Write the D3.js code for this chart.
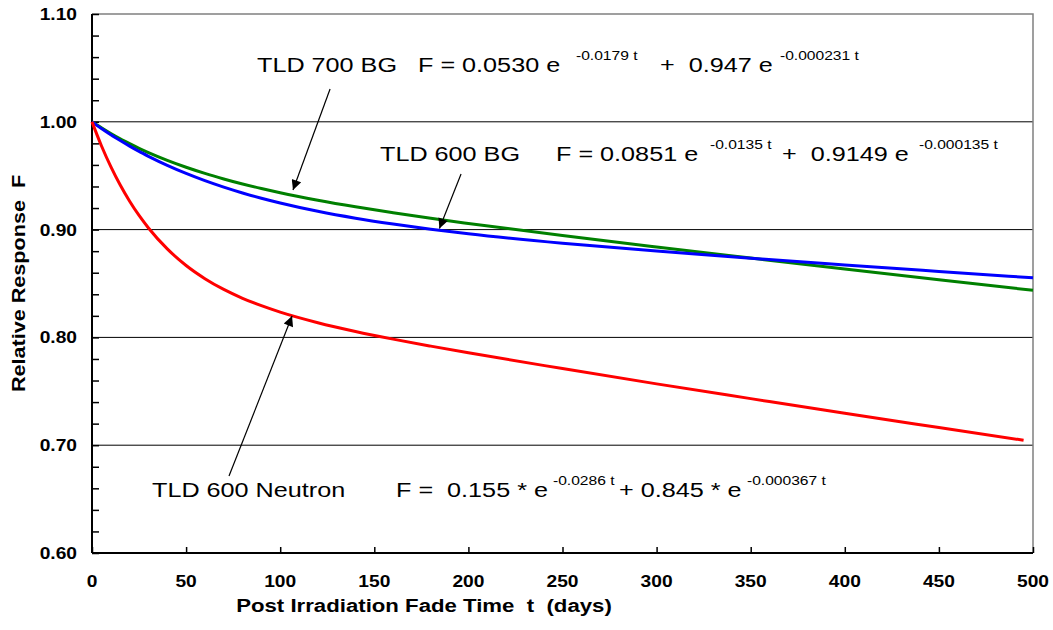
<!DOCTYPE html>
<html>
<head>
<meta charset="utf-8">
<script src="https://cdn.jsdelivr.net/npm/d3@7"></script>
<style>
  body { margin: 0; background: #fff; }
  text { font-family: "Liberation Sans", Arial, sans-serif; white-space: pre; }
</style>
</head>
<body>
<div id="chart"></div>
<script>
// fade time (days)
const days = [0, 5, 10, 15, 20, 25, 30, 40, 50, 60, 70, 80, 90, 100, 120, 140, 160, 180, 200, 250, 300, 350, 400, 450, 500]
const neutronDays = [0, 5, 10, 15, 20, 25, 30, 40, 50, 60, 70, 80, 90, 100, 120, 140, 160, 180, 200, 250, 300, 350, 400, 450, 495]

// relative response F
const tld700bg = [1.0000, 0.9944, 0.9891, 0.9842, 0.9797, 0.9754, 0.9714, 0.9642, 0.9578, 0.9521, 0.9470, 0.9423, 0.9381, 0.9342, 0.9273, 0.9212, 0.9157, 0.9105, 0.9057, 0.8945, 0.8839, 0.8736, 0.8634, 0.8535, 0.8437]
const tld600bg = [1.0000, 0.9938, 0.9880, 0.9826, 0.9774, 0.9725, 0.9680, 0.9596, 0.9521, 0.9454, 0.9394, 0.9340, 0.9291, 0.9247, 0.9170, 0.9106, 0.9052, 0.9004, 0.8962, 0.8874, 0.8801, 0.8734, 0.8672, 0.8612, 0.8553]
const tld600n = [1.0000, 0.9778, 0.9584, 0.9413, 0.9263, 0.9131, 0.9015, 0.8821, 0.8667, 0.8545, 0.8445, 0.8363, 0.8294, 0.8234, 0.8136, 0.8055, 0.7984, 0.7919, 0.7857, 0.7711, 0.7569, 0.7432, 0.7296, 0.7164, 0.7046]

const xTicks = [0, 50, 100, 150, 200, 250, 300, 350, 400, 450, 500]
const yTicks = [0.60, 0.70, 0.80, 0.90, 1.00, 1.10]
const gridValues = [0.70, 0.80, 0.90, 1.00]

const W = 1053, H = 630
const margin = { top: 14, right: 20, bottom: 77, left: 92 }
const sx = 1.2 // the original picture is stretched sideways

const svg = d3.select('#chart').append('svg')
    .attr('width', W)
    .attr('height', H)

const x = d3.scaleLinear().domain([0, 500]).range([margin.left, W - margin.right])
const y = d3.scaleLinear().domain([0.6, 1.1]).range([H - margin.bottom, margin.top])

function label(px, py, str, size, weight, anchor) {
    return svg.append('text')
        .attr('transform', `translate(${px},${py}) scale(${sx},1)`)
        .attr('font-size', size)
        .attr('font-weight', weight || 'normal')
        .attr('text-anchor', anchor || 'start')
        .attr('fill', '#000')
        .text(str)
}

// grid
svg.append('g').selectAll('line')
    .data(gridValues)
    .join('line')
    .attr('x1', x(0)).attr('x2', x(500))
    .attr('y1', d => y(d)).attr('y2', d => y(d))
    .attr('stroke', '#000')
    .attr('stroke-width', 1)

// top and right border
svg.append('path')
    .attr('d', `M${x(0)},${y(1.1)}H${x(500)}V${y(0.6)}`)
    .attr('fill', 'none')
    .attr('stroke', '#808080')
    .attr('stroke-width', 1.5)

// axes
const xAxis = svg.append('g')
    .attr('transform', `translate(0,${y(0.6)})`)
    .call(d3.axisBottom(x).tickValues(xTicks).tickSize(-6).tickFormat(''))
xAxis.select('.domain').attr('stroke-width', 2).attr('d', `M${x(0)},0H${x(500)}`)
xAxis.selectAll('.tick line').attr('stroke-width', 1.5)

const yAxis = svg.append('g')
    .attr('transform', `translate(${x(0)},0)`)
    .call(d3.axisLeft(y).tickValues(d3.range(0, 26).map(i => 0.6 + i * 0.02)).tickSize(-7).tickFormat(''))
yAxis.select('.domain').attr('stroke-width', 2).attr('d', `M0,${y(1.1)}V${y(0.6)}`)
yAxis.selectAll('.tick line').attr('stroke-width', 1.5)

xTicks.forEach(t => label(x(t), 587, t, 16, 'bold', 'middle'))
yTicks.forEach(v => label(77, y(v) + 6, v.toFixed(2), 16, 'bold', 'end'))

// axis titles
label(424, 612, 'Post Irradiation Fade Time  t  (days)', 18.5, 'bold', 'middle')
svg.append('text')
    .attr('transform', `translate(25,${(y(0.6) + y(1.1)) / 2}) rotate(-90) scale(${sx},1)`)
    .attr('font-size', 18)
    .attr('font-weight', 'bold')
    .attr('text-anchor', 'middle')
    .text('Relative Response  F')

// curves
const line = d3.line().curve(d3.curveMonotoneX)
const series = [
    { xs: days, ys: tld700bg, color: '#008000' },
    { xs: days, ys: tld600bg, color: '#0000ff' },
    { xs: neutronDays, ys: tld600n, color: '#ff0000' }
]
svg.append('g').selectAll('path')
    .data(series)
    .join('path')
    .attr('d', s => line(s.xs.map((t, i) => [x(t), y(s.ys[i])])))
    .attr('fill', 'none')
    .attr('stroke', s => s.color)
    .attr('stroke-width', 3)

// arrows (start -> tip, in data units)
svg.append('defs').append('marker')
    .attr('id', 'head')
    .attr('viewBox', '0 0 10 10')
    .attr('refX', 10).attr('refY', 5)
    .attr('markerWidth', 12).attr('markerHeight', 10)
    .attr('markerUnits', 'userSpaceOnUse')
    .attr('orient', 'auto')
    .append('path').attr('d', 'M0,0L10,5L0,10Z').attr('fill', '#000')

const arrows = [
    [126.5, 1.0304, 106.8, 0.9367],
    [196.1, 0.9516, 184.6, 0.9010],
    [72.8, 0.6714, 106.3, 0.8198]
]
svg.append('g').selectAll('line')
    .data(arrows)
    .join('line')
    .attr('x1', d => x(d[0])).attr('y1', d => y(d[1]))
    .attr('x2', d => x(d[2])).attr('y2', d => y(d[3]))
    .attr('stroke', '#000')
    .attr('stroke-width', 1.2)
    .attr('marker-end', 'url(#head)')

// equations
function equation(parts, base) {
    parts.forEach(p => {
        if (p.sup) label(p.x, base - 12, p.text, 13)
        else label(p.x, base, p.text, 21)
    })
}
equation([
    { x: 257, text: 'TLD 700 BG' },
    { x: 418, text: 'F = 0.0530 e' },
    { x: 576, text: '-0.0179 t', sup: true },
    { x: 660, text: '+  0.947 e' },
    { x: 780, text: '-0.000231 t', sup: true }
], 72)
equation([
    { x: 380, text: 'TLD 600 BG' },
    { x: 556, text: 'F = 0.0851 e' },
    { x: 710, text: '-0.0135 t', sup: true },
    { x: 782, text: '+  0.9149 e' },
    { x: 919, text: '-0.000135 t', sup: true }
], 161)
equation([
    { x: 152, text: 'TLD 600 Neutron' },
    { x: 396, text: 'F =  0.155 * e' },
    { x: 553, text: '-0.0286 t', sup: true },
    { x: 619, text: '+ 0.845 * e' },
    { x: 747, text: '-0.000367 t', sup: true }
], 497)
</script>
</body>
</html>
